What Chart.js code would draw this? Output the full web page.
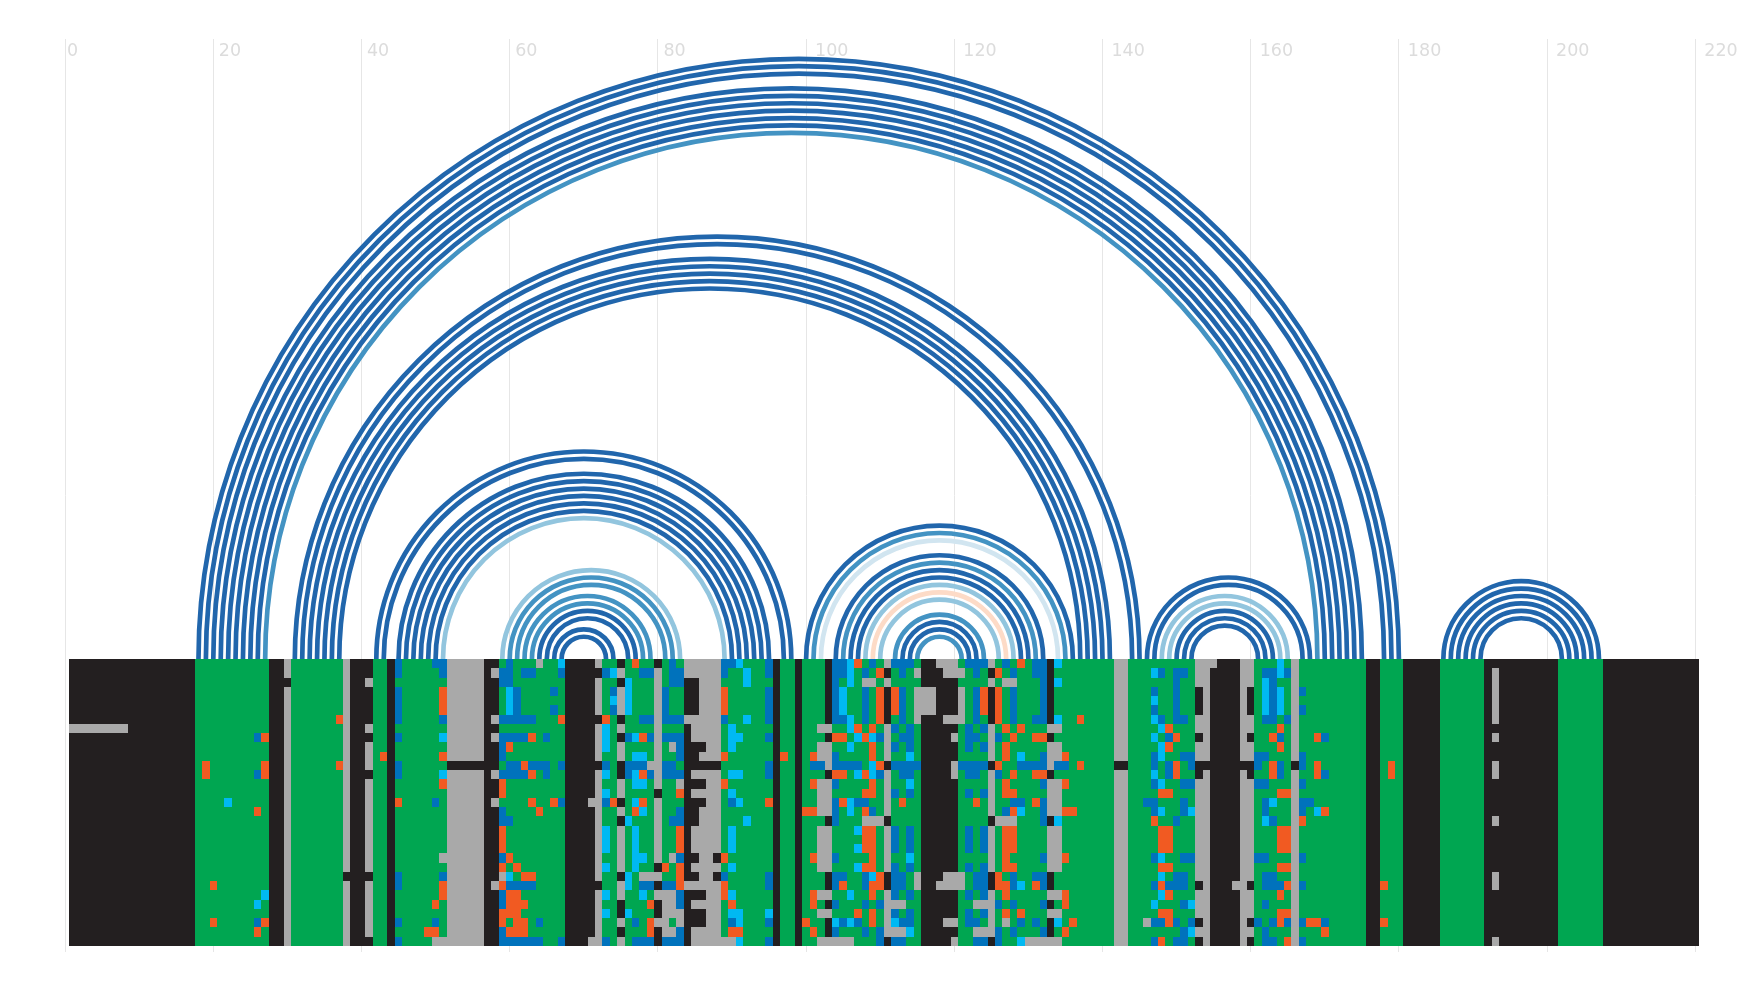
<!DOCTYPE html>
<html>
<head>
<meta charset="utf-8">
<style>
  html, body { margin: 0; padding: 0; background: #fff; }
  #wrap { width: 1760px; height: 990px; }
</style>
<script src="https://cdn.jsdelivr.net/npm/chart.js@4.4.7/dist/chart.umd.min.js"></script>
</head>
<body>
<div id="wrap"><canvas id="chart" width="1760" height="990"></canvas></div>
<script>
const xTicks = [0, 20, 40, 60, 80, 100, 120, 140, 160, 180, 200, 220];

// base pairs as [left position, right position], one list per arc colour
const darkArcs = [
  [18, 180], [19, 179], [20, 178], [21, 175], [22, 174], [23, 173], [24, 172], [25, 171], [26, 170],
  [31, 145], [32, 144], [33, 141], [34, 140], [35, 139], [36, 138], [37, 137],
  [42, 98], [43, 97], [45, 95], [46, 94], [47, 93], [48, 92], [49, 91], [50, 90],
  [64, 77], [65, 76], [66, 74], [67, 73],
  [100, 136], [104, 132], [106, 130], [107, 129], [113, 123], [114, 122],
  [146, 168], [147, 167], [150, 163], [151, 162], [152, 161],
  [186, 207], [187, 206], [188, 205], [189, 204], [190, 203], [191, 202],
];
const mediumArcs = [[27, 169], [60, 82], [61, 81], [62, 79], [63, 78], [101, 135], [105, 131], [112, 124], [115, 121]];
const lightArcs = [[51, 89], [59, 83], [108, 128], [110, 126], [148, 165], [149, 164]];
const paleArcs = [[102, 134]];
const peachArcs = [[109, 127]];

// alignment, one string per row, cut in six column blocks
// K gap, G conserved, B / C / O substitutions, A gray
const headCols = [ // columns 1-17
  "KKKKKKKKKKKKKKKKK", "KKKKKKKKKKKKKKKKK", "KKKKKKKKKKKKKKKKK", "KKKKKKKKKKKKKKKKK",
  "KKKKKKKKKKKKKKKKK", "KKKKKKKKKKKKKKKKK", "KKKKKKKKKKKKKKKKK", "AAAAAAAAKKKKKKKKK",
  "KKKKKKKKKKKKKKKKK", "KKKKKKKKKKKKKKKKK", "KKKKKKKKKKKKKKKKK", "KKKKKKKKKKKKKKKKK",
  "KKKKKKKKKKKKKKKKK", "KKKKKKKKKKKKKKKKK", "KKKKKKKKKKKKKKKKK", "KKKKKKKKKKKKKKKKK",
  "KKKKKKKKKKKKKKKKK", "KKKKKKKKKKKKKKKKK", "KKKKKKKKKKKKKKKKK", "KKKKKKKKKKKKKKKKK",
  "KKKKKKKKKKKKKKKKK", "KKKKKKKKKKKKKKKKK", "KKKKKKKKKKKKKKKKK", "KKKKKKKKKKKKKKKKK",
  "KKKKKKKKKKKKKKKKK", "KKKKKKKKKKKKKKKKK", "KKKKKKKKKKKKKKKKK", "KKKKKKKKKKKKKKKKK",
  "KKKKKKKKKKKKKKKKK", "KKKKKKKKKKKKKKKKK", "KKKKKKKKKKKKKKKKK",
];
const stemCols = [ // columns 18-51
  "GGGGGGGGGGKKAGGGGGGGAKKKGGKBGGGGBB",
  "GGGGGGGGGGKKAGGGGGGGAKKKGGKBGGGGGB",
  "GGGGGGGGGGKKKGGGGGGGAKKAGGKGGGGGGG",
  "GGGGGGGGGGKKAGGGGGGGAKKKGGKBGGGGGO",
  "GGGGGGGGGGKKAGGGGGGGAKKKGGKBGGGGGO",
  "GGGGGGGGGGKKAGGGGGGGAKKKGGKBGGGGGO",
  "GGGGGGGGGGKKAGGGGGGOAKKKGGKBGGGGGB",
  "GGGGGGGGGGKKAGGGGGGGAKKAGGKGGGGGGG",
  "GGGGGGGGBOKKAGGGGGGGAKKKGGKBGGGGGC",
  "GGGGGGGGGGKKAGGGGGGGAKKAGGKGGGGGGG",
  "GGGGGGGGGGKKAGGGGGGGAKKAGOKGGGGGGO",
  "GOGGGGGGGOKKAGGGGGGOAKKAGGKBGGGGGG",
  "GOGGGGGGBOKKAGGGGGGGAKKKGGKBGGGGGC",
  "GGGGGGGGGGKKAGGGGGGGAKKAGGKGGGGGGO",
  "GGGGGGGGGGKKAGGGGGGGAKKAGGKGGGGGGG",
  "GGGGCGGGGGKKAGGGGGGGAKKAGGKOGGGGBG",
  "GGGGGGGGOGKKAGGGGGGGAKKAGGKGGGGGGG",
  "GGGGGGGGGGKKAGGGGGGGAKKAGGKGGGGGGG",
  "GGGGGGGGGGKKAGGGGGGGAKKAGGKGGGGGGG",
  "GGGGGGGGGGKKAGGGGGGGAKKAGGKGGGGGGG",
  "GGGGGGGGGGKKAGGGGGGGAKKAGGKGGGGGGG",
  "GGGGGGGGGGKKAGGGGGGGAKKAGGKGGGGGGA",
  "GGGGGGGGGGKKAGGGGGGGAKKAGGKGGGGGGG",
  "GGGGGGGGGGKKAGGGGGGGKKKKGGKBGGGGGB",
  "GGOGGGGGGGKKAGGGGGGGAKKAGGKBGGGGGO",
  "GGGGGGGGGCKKAGGGGGGGAKKAGGKGGGGGGO",
  "GGGGGGGGCGKKAGGGGGGGAKKAGGKGGGGGOG",
  "GGGGGGGGGGKKAGGGGGGGAKKAGGKGGGGGGG",
  "GGOGGGGGBOKKAGGGGGGGAKKAGGKBGGGGBG",
  "GGGGGGGGOGKKAGGGGGGGAKKAGGKGGGGOOG",
  "GGGGGGGGGGKKAGGGGGGGAKKKGGKBGGGGAA",
];
const midCols = [ // columns 52-97
  "AAAAAKKGBGGGAGGCKKKKAGGKGOGGKGBGAAAAABBCGGGBKG",
  "AAAAAKABBGBBGGGBKKKKKBCAGGBBAGBBAAAAABGGCGGBKG",
  "AAAAAKKBBGGGGGGGKKKKAGGKCGGGAGBBKKAAAGGGCGGGKG",
  "AAAAAKKGCBGGGGBGKKKKAGBACGGGABGGKKAAAOGGGGGBKG",
  "AAAAAKKGCBGGGGGGKKKKAGCACGGGABGGKKAAAOGGGGGBKG",
  "AAAAAKKGCBGGGGBGKKKKAGBACGGGABGGKKAAAOGGGGGBKG",
  "AAAAAKABBBBBGGGOKKKKKOGKGGBBABBBAAAAABGGCGGBKG",
  "AAAAAKKGGGGGGGGGKKKKACGAGGGGAGGGKAAAAGCGGGGGKG",
  "AAAAAKABBBBOGBGGKKKKACGKBCOBABBBKAAAAGCCGGGBKG",
  "AAAAAKKBOGGGGGGGKKKKACGAGGGGAGABKKKAAGCGGGGGKG",
  "AAAAAKKBGGGGGGGGKKKKAGGAGCCGAGGBKKAAAOGGGGGGKO",
  "KKKKKKKGBBOBBBGBKKKKKBGKBBBAABBGKKKKKGGGGGGBKG",
  "AAAAAKABBBBOGBGGKKKKACGKBCOBABBBKAAAAGCCGGGBKG",
  "AAAAAKKOGGGGGGGGKKKKAGGAGCCGAGGAKKKAAOGGGGGGKG",
  "AAAAAKKOGGGGGGGGKKKKACGAGGGGKGGOKAAAAGCGGGGGKG",
  "AAAAAKAGGGGOGGOBKKKAABOKGCOGAGGGKKKAAGBCGGGOKG",
  "AAAAAKKBGGGGOGGGKKKKAGGAGOCGAGGBKKAAAGGGGGGGKG",
  "AAAAAKKBBGGGGGGGKKKKAGGKCGGGAGBBKKAAAGGGCGGGKG",
  "AAAAAKKOGGGGGGGGKKKKACGAGCGGAGGOKAAAAGCGGGGGKG",
  "AAAAAKKOGGGGGGGGKKKKACGAGCGGAGGOKAAAAGCGGGGGKG",
  "AAAAAKKOGGGGGGGGKKKKACGAGCGGAGGOKAAAAGCGGGGGKG",
  "AAAAAKKBOGGGGGGGKKKKAGGAGCCGAGABKKAAKOGGGGGGKG",
  "AAAAAKKOGOGGGGGGKKKKACGAGCGGKOGOKAAAAGCGGGGGKG",
  "AAAAAKKACGOOGGGGKKKKAGGKCGAAAGGOKKAAKBGGGGGBKG",
  "AAAAAKAOBBBBGGGGKKKKKGGACGBBKBBOAAAAAOGGGGGBKG",
  "AAAAAKKBOOGGGGGGKKKKACGAGGCGAAABKKKAAOCGGGGGKG",
  "AAAAAKKBOOOGGGGGKKKKAGGKGGGOKAABKAAAAGOGGGGGKG",
  "AAAAAKKOOOGGGGGGKKKKACGKCGGGKAAAKKKAAGCCGGGCKG",
  "AAAAAKKOGOOGBGGGKKKKAGGAGBGOAAGAKKKAAGBCGGGBKG",
  "AAAAAKKBOOOGGGGGKKKKAGGKGGGOKAABKAAAAGOOGGGGKG",
  "AAAAAKKBBBBBBGGBKKKAABGAGBBBKBBBKAAAAAACGGGBKG",
];
const coreCols = [ // columns 98-138
  "GKGGGKBBCOGBGABBBGKKAAAGBBBAGBGOGBBKCGGGG",
  "GKGGGKBBCGBGOKGBGAKKKAAAGBGKOGBGGBBKGGGGG",
  "GKGGGKBGCGAAGAGGGGKKKKKGGGGAGAAGGGBKCGGGG",
  "GKGGGKBCGGBGOKOBGAAAKKKAGBOKOGBGGGBKGGGGG",
  "GKGGGKBCGGBGOKOBGAAAKKKAGBOKOGBGGGBKGGGGG",
  "GKGGGKBCGGBGOKOBGAAAKKKAGBOKOGBGGGBKGGGGG",
  "GKGGGKBBCGBGOKGBGAKKKAAAGBGKOGBGGBBKCGGOG",
  "GKGGAAGGCOGOGABGBGKKKKKGBGBAGOGOGGGAAGGGG",
  "GKGGGKOOGCOCBAGBBGKKKKAGBBGABGOGGOOKGGGGG",
  "GKGGAAGGCGGOGABGBGKKKKKGBGBAGOGGGGGAAGGGG",
  "GKGOAABGGGGOGAGGCGKKKKKGGGGAGOGCGGBAAOGGG",
  "GKGBBABBBBGCOKBBBBKKKKABBBBKOGGBBBBABBGOG",
  "GKGGGKOOGCOCBAGBBGKKKKAGBBGABGOGGOOKGGGGG",
  "GKGOAABGGGGOGAGGCGKKKKKGGGGAGOGGGGBAAOGGG",
  "GKGGAAGGGGOOGABGBGKKKKKGBGBAGOOGGGGAAGGGG",
  "GKGGAABOCBBGGAGOGGKKKKKGGOGAGGBBGOBAAGGGG",
  "GKOOAABGCGOBGAGGGGKKKKKGGGGAGBOCGGBAAOOGG",
  "GKGGGKBGGGAAAKGGGGKKKKKGGGGKAAAGGGBKCGGGG",
  "GKGGAAGGGCOOGABGBGKKKKKGBGBAGOOGGGGAAGGGG",
  "GKGGAAGGGGOOGABGBGKKKKKGBGBAGOOGGGGAAGGGG",
  "GKGGAAGGGCOOGABGBGKKKKKGBGBAGOOGGGGAAGGGG",
  "GKGOAABGGGGOGAGGCGKKKKKGGGGAGOGGGGBAAOGGG",
  "GKGGAAGGGCOOGABGBGKKKKKGBGBAGOOGGGGAAGGGG",
  "GKGGGKBBGGBCOKBBGAKKKAAAGBBKOGBGGBBKGGGGG",
  "GKGGGKBOGGBOOKBBGAKKAAAAGBBKOOBCGOBKGGGGG",
  "GKGOAAGGCGGOGABGBGKKKKKGBGBAGOGGGGGAAOGGG",
  "GKGOGKBGGGBGBAAAGGKKKKKGGAAABGBGGGBKGOGGG",
  "GKGGAAGGGOGOGABGBGKKKKKGBGBAGOGOGGGAAGGGG",
  "GKOGGKCBCBGOGACBBGKKKAAGBBGAGAGBGBGKCGOGG",
  "GKGOGKBGGGBGBAAACGKKKKKGGAAABGBGGGBKGOGGG",
  "GKGGAAAAAGGGBKBBGGKKKKAGGBBKBGGCAAAAAGGGG",
];
const rightCols = [ // columns 139-180
  "GGGAAGGGGGGGGGAAAKKKAAGGGCGAGGGGGGGGGKKGGG",
  "GGGAAGGGCBGBBGAAKKKKAAGBBCBAGGGGGGGGGKKGGG",
  "GGGAAGGGGGGBGGAAKKKKAAGCBGGAGGGGGGGGGKKGGG",
  "GGGAAGGGBGGBGGKAKKKKAKGCBCGABGGGGGGGGKKGGG",
  "GGGAAGGGCGGBGGKAKKKKAKGCBCGAGGGGGGGGGKKGGG",
  "GGGAAGGGBGGBGGKAKKKKAKGCBCGABGGGGGGGGKKGGG",
  "GGGAAGGGCBGBBGAAKKKKAAGBBGBAGGGGGGGGGKKGGG",
  "GGGAAGGGGCOGGGAAKKKKAAGGGOGAGGGGGGGGGKKGGG",
  "GGGAAGGGCGBOGGKAKKKKAKGGOBGAGGOBGGGGGKKGGG",
  "GGGAAGGGGCOGGGAAKKKKAAGGGOGAGGGGGGGGGKKGGG",
  "GGGAAGGGBCGGBBAAKKKKAABBGGGABGGGGGGGGKKGGG",
  "GGGKKGGGBGBOGBKKKKKKKKBGOBGKBGOGGGGGGKKGOG",
  "GGGAAGGGCGBOGGKAKKKKAKGGOBGAGGOBGGGGGKKGOG",
  "GGGAAGGGBCGGBBAAKKKKAABBGGGABGGGGGGGGKKGGG",
  "GGGAAGGGGOOGGGAAKKKKAAGGGOOAGGGGGGGGGKKGGG",
  "GGGAAGGBBGGGBGAAKKKKAAGBCGGABBGGGGGGGKKGGG",
  "GGGAAGGGBCGGBCAAKKKKAAGBGGGABGCOGGGGGKKGGG",
  "GGGAAGGGOGGBGGAAKKKKAAGCBGGAOGGGGGGGGKKGGG",
  "GGGAAGGGGOOGGGAAKKKKAAGGGOOAGGGGGGGGGKKGGG",
  "GGGAAGGGGOOGGGAAKKKKAAGGGOOAGGGGGGGGGKKGGG",
  "GGGAAGGGGOOGGGAAKKKKAAGGGOOAGGGGGGGGGKKGGG",
  "GGGAAGGGBCGGBBAAKKKKAABBGGGABGGGGGGGGKKGGG",
  "GGGAAGGGGOOGGGAAKKKKAAGGGOOAGGGGGGGGGKKGGG",
  "GGGAAGGGGCGBBGAAKKKKAAGBBGGAGGGGGGGGGKKGGG",
  "GGGAAGGGBOBBBGKAKKKAAKGBBBOABGGGGGGGGKKOGG",
  "GGGAAGGGGCOGGGAAKKKKAAGGGOGAGGGGGGGGGKKGGG",
  "GGGAAGGGCGGGBCAAKKKKAAGBGGGAGGGGGGGGGKKGGG",
  "GGGAAGGGGOOGGGAAKKKKAAGGGOOAGGGGGGGGGKKGGG",
  "GGGAAGGABBOBGBKAKKKKAKBGBOBABOOBGGGGGKKOGG",
  "GGGAAGGGGGGGBCAAKKKKAAGBGGGAGGGOGGGGGKKGGG",
  "GGGAAGGGBOGBBGKAKKKKAKGBBGOABGGGGGGGGKKGGG",
];
const tailCols = [ // columns 181-220
  "KKKKKGGGGGGKKKKKKKKKKGGGGGGKKKKKKKKKKKKK", "KKKKKGGGGGGKAKKKKKKKKGGGGGGKKKKKKKKKKKKK",
  "KKKKKGGGGGGKAKKKKKKKKGGGGGGKKKKKKKKKKKKK", "KKKKKGGGGGGKAKKKKKKKKGGGGGGKKKKKKKKKKKKK",
  "KKKKKGGGGGGKAKKKKKKKKGGGGGGKKKKKKKKKKKKK", "KKKKKGGGGGGKAKKKKKKKKGGGGGGKKKKKKKKKKKKK",
  "KKKKKGGGGGGKAKKKKKKKKGGGGGGKKKKKKKKKKKKK", "KKKKKGGGGGGKKKKKKKKKKGGGGGGKKKKKKKKKKKKK",
  "KKKKKGGGGGGKAKKKKKKKKGGGGGGKKKKKKKKKKKKK", "KKKKKGGGGGGKKKKKKKKKKGGGGGGKKKKKKKKKKKKK",
  "KKKKKGGGGGGKKKKKKKKKKGGGGGGKKKKKKKKKKKKK", "KKKKKGGGGGGKAKKKKKKKKGGGGGGKKKKKKKKKKKKK",
  "KKKKKGGGGGGKAKKKKKKKKGGGGGGKKKKKKKKKKKKK", "KKKKKGGGGGGKKKKKKKKKKGGGGGGKKKKKKKKKKKKK",
  "KKKKKGGGGGGKKKKKKKKKKGGGGGGKKKKKKKKKKKKK", "KKKKKGGGGGGKKKKKKKKKKGGGGGGKKKKKKKKKKKKK",
  "KKKKKGGGGGGKKKKKKKKKKGGGGGGKKKKKKKKKKKKK", "KKKKKGGGGGGKAKKKKKKKKGGGGGGKKKKKKKKKKKKK",
  "KKKKKGGGGGGKKKKKKKKKKGGGGGGKKKKKKKKKKKKK", "KKKKKGGGGGGKKKKKKKKKKGGGGGGKKKKKKKKKKKKK",
  "KKKKKGGGGGGKKKKKKKKKKGGGGGGKKKKKKKKKKKKK", "KKKKKGGGGGGKKKKKKKKKKGGGGGGKKKKKKKKKKKKK",
  "KKKKKGGGGGGKKKKKKKKKKGGGGGGKKKKKKKKKKKKK", "KKKKKGGGGGGKAKKKKKKKKGGGGGGKKKKKKKKKKKKK",
  "KKKKKGGGGGGKAKKKKKKKKGGGGGGKKKKKKKKKKKKK", "KKKKKGGGGGGKKKKKKKKKKGGGGGGKKKKKKKKKKKKK",
  "KKKKKGGGGGGKKKKKKKKKKGGGGGGKKKKKKKKKKKKK", "KKKKKGGGGGGKKKKKKKKKKGGGGGGKKKKKKKKKKKKK",
  "KKKKKGGGGGGKKKKKKKKKKGGGGGGKKKKKKKKKKKKK", "KKKKKGGGGGGKKKKKKKKKKGGGGGGKKKKKKKKKKKKK",
  "KKKKKGGGGGGKAKKKKKKKKGGGGGGKKKKKKKKKKKKK",
];

const cellColors = { K: "#231f20", G: "#00a651", B: "#0072bc", C: "#00b9f2", O: "#f15a22", A: "#a9a9a9" };

// one floating bar per run of equal letters in a row
function cellDatasets() {
  const runs = { K: [], G: [], B: [], C: [], O: [], A: [] };
  headCols.forEach((head, r) => {
    const row = head + stemCols[r] + midCols[r] + coreCols[r] + rightCols[r] + tailCols[r];
    let start = 0;
    for (let c = 1; c <= row.length; c++) {
      if (row[c] !== row[start]) {
        runs[row[start]].push({ x: [start + 0.5, c + 0.5], y: r + 0.5 });
        start = c;
      }
    }
  });
  return Object.keys(runs).map((k) => ({
    type: "bar",
    indexAxis: "y",
    data: runs[k],
    backgroundColor: cellColors[k],
    borderWidth: 0,
    inflateAmount: 0,
    barThickness: 9.26,
    grouped: false,
    clip: false, // last column sticks out past position 220
  }));
}

function arcDataset(pairs, color) {
  return {
    type: "scatter",
    isArc: true,
    data: pairs.flat().map((p) => ({ x: p, y: 0 })),
    borderColor: color,
    pointRadius: 0,
    showLine: false,
  };
}

// rows come out 9 or 10 px high, with no blurred seams
const snapCells = {
  id: "snapCells",
  beforeDatasetsDraw(chart) {
    chart.data.datasets.forEach((ds, i) => {
      if (ds.type !== "bar") return;
      chart.getDatasetMeta(i).data.forEach((el) => {
        const top = Math.round(el.y - el.height / 2);
        const bottom = Math.round(el.y + el.height / 2);
        el.x = Math.round(el.x);
        el.base = Math.round(el.base);
        el.y = (top + bottom) / 2;
        el.height = bottom - top;
      });
    });
  },
};

// half circle between the two end points of each pair
const pairArcs = {
  id: "pairArcs",
  afterDatasetsDraw(chart) {
    const ctx = chart.ctx;
    ctx.save();
    ctx.lineWidth = 4.7;
    ctx.lineCap = "butt";
    chart.data.datasets.forEach((ds, i) => {
      if (!ds.isArc) return;
      const pts = chart.getDatasetMeta(i).data;
      ctx.strokeStyle = ds.borderColor;
      for (let k = 0; k < pts.length; k += 2) {
        ctx.beginPath();
        ctx.arc((pts[k].x + pts[k + 1].x) / 2, pts[k].y, (pts[k + 1].x - pts[k].x) / 2, Math.PI, 0);
        ctx.stroke();
      }
    });
    ctx.restore();
  },
};

new Chart(document.getElementById("chart"), {
  type: "scatter",
  data: {
    datasets: [
      ...cellDatasets(),
      arcDataset(peachArcs, "#fddbc7"),
      arcDataset(paleArcs, "#d1e5f0"),
      arcDataset(lightArcs, "#92c5de"),
      arcDataset(mediumArcs, "#4393c3"),
      arcDataset(darkArcs, "#2166ac"),
    ],
  },
  options: {
    responsive: false,
    animation: false,
    devicePixelRatio: 1,
    layout: { padding: { left: 65.1, right: 64.7, top: 35, bottom: 38 } },
    plugins: { legend: { display: false }, tooltip: { enabled: false } },
    events: [],
    scales: {
      x: {
        type: "linear",
        position: "top",
        min: 0,
        max: 220,
        afterBuildTicks: (scale) => { scale.ticks = xTicks.map((v) => ({ value: v })); },
        border: { display: false },
        grid: { color: "#e6e6e6", lineWidth: 1, drawTicks: false },
        ticks: {
          autoSkip: false,
          maxRotation: 0,
          align: "start",
          mirror: true,
          padding: 2,
          labelOffset: 2,
          color: "#dcdcdc",
          font: { family: "'DejaVu Sans'", size: 17.5 },
          // the labels drift right as they get longer
          callback: (v) => "\u200a\u200a".repeat(String(v).length - 1) + v,
        },
      },
      y: { type: "linear", display: false, reverse: true, offset: false, min: -66.97, max: 31.65 },
    },
  },
  plugins: [snapCells, pairArcs],
});
</script>
</body>
</html>
